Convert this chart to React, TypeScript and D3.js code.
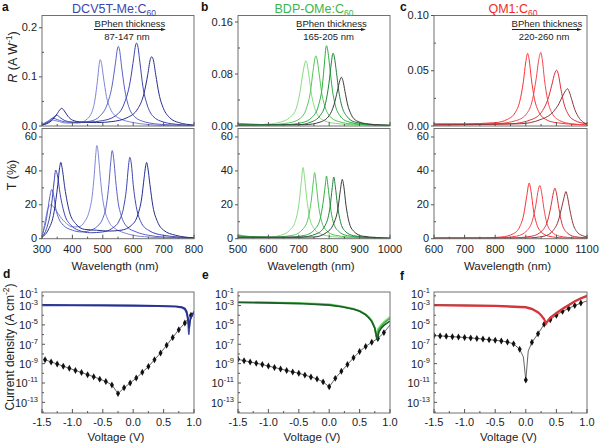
import React, { useRef, useEffect } from 'react';
import * as d3 from 'd3';

type Pt = [number, number];

// ---- a: DCV5T-Me:C60 (responsivity, A/W) ----
const aR1: Pt[] = [[300, 0.002], [320, 0.008], [335, 0.012], [350, 0.01], [380, 0.006], [420, 0.006], [450, 0.015], [470, 0.04], [482, 0.09], [488, 0.125], [491, 0.135], [495, 0.13], [502, 0.1], [512, 0.06], [525, 0.035], [550, 0.017], [600, 0.007], [650, 0.003], [700, 0.001], [800, 0]];
const aR2: Pt[] = [[300, 0.003], [320, 0.01], [336, 0.016], [350, 0.013], [380, 0.008], [420, 0.007], [460, 0.01], [490, 0.02], [515, 0.045], [530, 0.08], [542, 0.13], [548, 0.157], [551, 0.162], [555, 0.155], [562, 0.12], [572, 0.075], [585, 0.04], [600, 0.022], [640, 0.008], [700, 0.003], [800, 0.001]];
const aR3: Pt[] = [[300, 0.002], [325, 0.01], [340, 0.019], [349, 0.022], [358, 0.018], [375, 0.011], [400, 0.008], [450, 0.008], [500, 0.011], [540, 0.02], [570, 0.045], [590, 0.09], [602, 0.14], [608, 0.165], [611, 0.169], [615, 0.163], [622, 0.13], [632, 0.08], [645, 0.045], [665, 0.02], [700, 0.008], [750, 0.003], [800, 0.001]];
const aR4: Pt[] = [[300, 0.002], [330, 0.01], [350, 0.025], [360, 0.034], [365, 0.036], [372, 0.032], [385, 0.02], [400, 0.012], [430, 0.008], [480, 0.007], [530, 0.009], [580, 0.017], [615, 0.035], [635, 0.065], [648, 0.105], [656, 0.135], [661, 0.141], [666, 0.135], [674, 0.105], [685, 0.065], [700, 0.035], [720, 0.017], [750, 0.007], [800, 0.002]];
// transmittance, %
const aT1: Pt[] = [[300, 0], [310, 10], [320, 18], [330, 20], [345, 17], [360, 13], [380, 9], [400, 7], [420, 7], [440, 10], [455, 16], [465, 25], [472, 38], [477, 50], [480, 55], [484, 52], [490, 40], [497, 27], [505, 18], [520, 10], [540, 6], [570, 3.5], [600, 2], [650, 1], [700, 0.5], [800, 0.2]];
const aT2: Pt[] = [[300, 2], [315, 12], [325, 24], [332, 29], [338, 26], [345, 18], [355, 12], [370, 8], [400, 5], [430, 4], [460, 5], [480, 7], [500, 12], [512, 20], [520, 32], [526, 45], [531, 52], [536, 47], [542, 35], [550, 22], [560, 14], [580, 7], [610, 4], [650, 2], [700, 1], [800, 0.3]];
const aT3: Pt[] = [[300, 1], [315, 6], [330, 18], [340, 34], [345, 40.5], [350, 38], [360, 26], [375, 14], [395, 8], [420, 5], [460, 3.5], [500, 4], [530, 6], [555, 11], [568, 18], [578, 30], [584, 42], [589, 48], [594, 44], [600, 32], [610, 19], [625, 10], [650, 5], [700, 2], [800, 0.5]];
const aT4: Pt[] = [[300, 1], [320, 5], [340, 16], [352, 32], [358, 42], [362, 45], [366, 42], [375, 30], [390, 16], [410, 9], [440, 5.5], [480, 5], [520, 4.5], [560, 5], [595, 8], [615, 14], [628, 24], [636, 36], [641, 43], [644, 45], [648, 42], [655, 32], [665, 19], [680, 10], [700, 5], [740, 2], [800, 0.5]];
const aColors = ['#7f86d6', '#5a62c4', '#3e46b0', '#262d8c'];

// ---- b: BDP-OMe:C60 ----
const bR1: Pt[] = [[500, 0.004], [550, 0.002], [600, 0.003], [640, 0.006], [670, 0.013], [690, 0.025], [703, 0.05], [713, 0.08], [720, 0.097], [723, 0.1005], [727, 0.096], [734, 0.075], [742, 0.048], [752, 0.028], [765, 0.015], [785, 0.008], [820, 0.004], [880, 0.002], [1000, 0.001]];
const bR2: Pt[] = [[500, 0.004], [600, 0.002], [670, 0.005], [705, 0.012], [725, 0.027], [738, 0.052], [747, 0.085], [753, 0.104], [756, 0.108], [760, 0.103], [767, 0.08], [775, 0.052], [786, 0.03], [800, 0.016], [830, 0.007], [880, 0.003], [1000, 0.001]];
const bR3: Pt[] = [[500, 0.003], [650, 0.002], [710, 0.005], [745, 0.014], [765, 0.032], [777, 0.06], [785, 0.1], [789, 0.12], [791, 0.1235], [795, 0.117], [802, 0.09], [810, 0.057], [820, 0.032], [835, 0.016], [860, 0.007], [920, 0.002], [1000, 0.001]];
const bR4: Pt[] = [[500, 0.002], [700, 0.002], [740, 0.006], [770, 0.016], [788, 0.035], [799, 0.065], [807, 0.097], [811, 0.11], [813, 0.112], [817, 0.106], [824, 0.082], [832, 0.052], [842, 0.03], [858, 0.015], [885, 0.006], [950, 0.002], [1000, 0.001]];
const bR5: Pt[] = [[500, 0.001], [720, 0.002], [770, 0.006], [800, 0.016], [816, 0.033], [827, 0.054], [835, 0.07], [840, 0.075], [845, 0.07], [852, 0.053], [860, 0.034], [872, 0.018], [890, 0.008], [930, 0.003], [1000, 0.001]];
const bT1: Pt[] = [[500, 2.5], [550, 1], [600, 1], [640, 2], [670, 5], [688, 10], [700, 20], [708, 33], [714, 42], [719, 36], [726, 24], [735, 13], [748, 6.5], [770, 3], [810, 1.2], [880, 0.5], [1000, 0.2]];
const bT2: Pt[] = [[500, 2], [600, 0.8], [680, 2], [715, 6], [732, 13], [742, 24], [748, 34], [752, 39], [757, 33], [764, 21], [774, 11], [790, 5], [820, 2], [900, 0.6], [1000, 0.2]];
const bT3: Pt[] = [[500, 1.5], [650, 0.6], [720, 2], [755, 6], [772, 13], [782, 24], [788, 33], [791, 37], [796, 31], [803, 20], [813, 10], [830, 4.5], [860, 1.8], [950, 0.4], [1000, 0.2]];
const bT4: Pt[] = [[500, 1], [700, 0.8], [760, 3], [790, 9], [803, 19], [810, 30], [815, 36.4], [820, 31], [827, 20], [837, 10], [852, 4.5], [880, 1.8], [950, 0.5], [1000, 0.3]];
const bT5: Pt[] = [[500, 0.8], [750, 1], [790, 3.5], [815, 9], [829, 18], [837, 29], [843, 35], [848, 31], [855, 20], [865, 10], [880, 4.5], [910, 1.5], [1000, 0.3]];
const bColors = ['#86dc7e', '#55c55a', '#2fae3f', '#23823a', '#3b3b3b'];

// ---- c: QM1:C60 ----
const cR1: Pt[] = [[600, 0.002], [700, 0.002], [800, 0.003], [840, 0.006], [865, 0.012], [880, 0.022], [892, 0.04], [900, 0.058], [906, 0.0657], [911, 0.06], [918, 0.043], [928, 0.025], [942, 0.013], [965, 0.006], [1000, 0.003], [1100, 0.001]];
const cR2: Pt[] = [[600, 0.001], [800, 0.002], [870, 0.005], [905, 0.012], [922, 0.024], [934, 0.043], [943, 0.061], [949, 0.0666], [954, 0.06], [961, 0.042], [971, 0.024], [985, 0.012], [1010, 0.005], [1050, 0.002], [1100, 0.001]];
const cR3: Pt[] = [[600, 0.001], [850, 0.002], [920, 0.006], [955, 0.014], [972, 0.024], [985, 0.037], [995, 0.048], [1001, 0.0505], [1007, 0.046], [1015, 0.033], [1025, 0.02], [1040, 0.01], [1060, 0.005], [1100, 0.002]];
const cR4: Pt[] = [[600, 0.001], [880, 0.002], [950, 0.006], [990, 0.013], [1008, 0.02], [1020, 0.027], [1030, 0.032], [1036, 0.0338], [1042, 0.031], [1050, 0.024], [1060, 0.015], [1075, 0.007], [1090, 0.003], [1100, 0.002]];
const cT1: Pt[] = [[600, 0.5], [750, 0.4], [820, 1], [860, 3], [880, 7], [893, 14], [903, 25], [911, 32.8], [917, 28], [925, 17], [935, 9], [950, 4], [975, 1.5], [1020, 0.5], [1100, 0.2]];
const cT2: Pt[] = [[600, 0.3], [800, 0.4], [870, 1.5], [905, 5], [922, 11], [933, 20], [941, 29], [946, 31.4], [951, 28], [959, 18], [969, 9], [985, 4], [1010, 1.5], [1060, 0.5], [1100, 0.3]];
const cT3: Pt[] = [[600, 0.3], [850, 0.4], [920, 1.5], [955, 5], [972, 11], [983, 20], [990, 27], [995, 29.8], [1000, 27], [1008, 18], [1018, 9], [1035, 3.5], [1060, 1.2], [1100, 0.5]];
const cT4: Pt[] = [[600, 0.2], [900, 0.4], [960, 1.5], [990, 5], [1007, 11], [1018, 19], [1026, 25], [1031, 27.8], [1036, 25], [1044, 17], [1054, 9], [1070, 3.5], [1090, 1.5], [1100, 1]];
const cColors = ['#ff3030', '#f04850', '#d8303a', '#8a3838'];

// ---- d/e/f: current density (A cm^-2) vs voltage ----
const dLight1: Pt[] = [[-1.5, 1.05e-3], [-1.0, 1e-3], [-0.5, 9.5e-4], [0, 9e-4], [0.4, 8.5e-4], [0.7, 7.5e-4], [0.8, 6e-4], [0.85, 4e-4], [0.88, 1.5e-4], [0.9, 3e-5], [0.915, 1e-6], [0.93, 2e-5], [0.95, 6e-5], [1.0, 1.8e-4]];
const dLight2: Pt[] = [[-1.5, 1.2e-3], [-1.0, 1.15e-3], [-0.5, 1.1e-3], [0, 1.05e-3], [0.4, 9.5e-4], [0.7, 8.5e-4], [0.8, 7e-4], [0.85, 5e-4], [0.88, 2.5e-4], [0.9, 6e-5], [0.92, 5e-6], [0.94, 4e-5], [0.97, 1e-4], [1.0, 2.5e-4]];
// dark current: markers sit on the 0.05-offset grid in this panel, last point is line only
const dDark: Pt[] = [[-1.45, 2.5e-9], [-1.35, 1.5e-9], [-1.25, 9.1e-10], [-1.15, 5.5e-10], [-1.05, 3.3e-10], [-0.95, 2e-10], [-0.85, 1.2e-10], [-0.75, 7.2e-11], [-0.65, 4.4e-11], [-0.55, 2.5e-11], [-0.45, 1.4e-11], [-0.35, 6.3e-12], [-0.25, 8e-13], [-0.15, 3.2e-12], [-0.05, 1e-11], [0.05, 3.2e-11], [0.15, 1.26e-10], [0.25, 5e-10], [0.35, 2.5e-9], [0.45, 1.26e-8], [0.55, 8e-8], [0.65, 5e-7], [0.75, 3.2e-6], [0.85, 1.6e-5], [0.95, 1e-4], [1.0, 2e-4]];

const eLight1: Pt[] = [[-1.5, 2.4e-3], [-1.0, 2.2e-3], [-0.5, 1.9e-3], [0, 1.4e-3], [0.2, 9e-4], [0.4, 5e-4], [0.5, 3e-4], [0.6, 1.3e-4], [0.65, 7e-5], [0.7, 3e-5], [0.74, 8e-6], [0.77, 1e-6], [0.8, 4e-6], [0.85, 1e-5], [0.9, 2.2e-5], [0.95, 4e-5], [1.0, 7e-5]];
const eLight2: Pt[] = [[-1.5, 2.2e-3], [-1.0, 2e-3], [-0.5, 1.7e-3], [0, 1.2e-3], [0.2, 8e-4], [0.4, 4.5e-4], [0.5, 2.8e-4], [0.6, 1.2e-4], [0.65, 6e-5], [0.7, 2.5e-5], [0.75, 5e-6], [0.78, 4e-7], [0.81, 3e-6], [0.85, 7e-6], [0.9, 1.5e-5], [0.95, 2.8e-5], [1.0, 4.5e-5]];
const eLight3: Pt[] = [[-1.5, 2.1e-3], [-1.0, 1.9e-3], [-0.5, 1.6e-3], [0, 1.1e-3], [0.2, 7.5e-4], [0.4, 4.2e-4], [0.5, 2.6e-4], [0.6, 1.1e-4], [0.65, 5.5e-5], [0.7, 2.2e-5], [0.75, 4.5e-6], [0.79, 3e-7], [0.82, 2e-6], [0.86, 5e-6], [0.9, 9e-6], [0.95, 1.5e-5], [1.0, 2.5e-5]];
const eDark: Pt[] = [[-1.5, 2.8e-9], [-1.4, 2e-9], [-1.3, 1.5e-9], [-1.2, 1.1e-9], [-1.1, 8e-10], [-1.0, 5.6e-10], [-0.9, 4e-10], [-0.8, 2.8e-10], [-0.7, 2e-10], [-0.6, 1.4e-10], [-0.5, 1e-10], [-0.4, 6.5e-11], [-0.3, 4.2e-11], [-0.2, 2.6e-11], [-0.1, 1.3e-11], [0, 4e-12], [0.1, 3e-11], [0.2, 1.6e-10], [0.3, 8e-10], [0.4, 4e-9], [0.5, 1.8e-8], [0.6, 6e-8], [0.7, 1.6e-7], [0.8, 4e-7], [0.9, 1.6e-6], [1.0, 1e-5]];
const eLightColors = ['#8ee07e', '#3fae45', '#1b5e28'];

const fLight1: Pt[] = [[-1.5, 1.2e-3], [-1.0, 1.1e-3], [-0.5, 1e-3], [0, 7.5e-4], [0.1, 5e-4], [0.2, 2.2e-4], [0.25, 1.1e-4], [0.3, 4.5e-5], [0.33, 1.6e-5], [0.36, 3e-5], [0.4, 6e-5], [0.5, 1.9e-4], [0.6, 5e-4], [0.7, 1.2e-3], [0.8, 3e-3], [0.9, 6e-3], [1.0, 1.1e-2]];
const fLight2: Pt[] = [[-1.5, 1e-3], [-1.0, 9e-4], [-0.5, 8.5e-4], [0, 6e-4], [0.1, 4e-4], [0.2, 1.8e-4], [0.25, 9e-5], [0.3, 3.5e-5], [0.33, 1.2e-5], [0.36, 2.4e-5], [0.4, 5e-5], [0.5, 1.5e-4], [0.6, 4e-4], [0.7, 1e-3], [0.8, 2.4e-3], [0.9, 5e-3], [1.0, 9e-3]];
const fDark: Pt[] = [[-1.5, 8e-7], [-1.4, 7.3e-7], [-1.3, 6.7e-7], [-1.2, 6.1e-7], [-1.1, 5.6e-7], [-1.0, 5e-7], [-0.9, 4.5e-7], [-0.8, 4e-7], [-0.7, 3.5e-7], [-0.6, 3e-7], [-0.5, 2.6e-7], [-0.4, 2.2e-7], [-0.3, 1.7e-7], [-0.2, 1.1e-7], [-0.1, 3e-8], [-0.04, 5e-9], [0, 2e-11], [0.04, 2e-8], [0.1, 1.6e-7], [0.2, 1.2e-6], [0.3, 1.2e-5], [0.4, 3.5e-5], [0.5, 1e-4], [0.6, 2.5e-4], [0.7, 5e-4], [0.8, 1e-3], [0.9, 1.8e-3], [1.0, 3e-3]];
const fLightColors = ['#b0403f', '#e8303a'];

const FONT = '"Liberation Sans", Arial, Helvetica, sans-serif';
const COLS: [number, number][] = [[42, 194], [238, 390], [434, 587]];
const R_Y: [number, number] = [15.5, 126];
const T_Y: [number, number] = [128.5, 238.7];
const J_Y: [number, number] = [292, 413];
const TICK_FS = 11;
const TITLE_FS = 11.5;

type G = d3.Selection<SVGGElement, unknown, null, undefined>;

function frame(g: G, x0: number, x1: number, y0: number, y1: number) {
  g.append('rect').attr('x', x0).attr('y', y0).attr('width', x1 - x0).attr('height', y1 - y0)
    .attr('fill', 'none').attr('stroke', '#707070').attr('stroke-width', 1);
}

function xTicks(g: G, x: d3.ScaleLinear<number, number>, y1: number, major: number[], minor: number[], labels: boolean) {
  for (const t of minor) {
    g.append('line').attr('x1', x(t)).attr('x2', x(t)).attr('y1', y1).attr('y2', y1 - 2).attr('stroke', '#555');
  }
  for (const t of major) {
    g.append('line').attr('x1', x(t)).attr('x2', x(t)).attr('y1', y1).attr('y2', y1 - 4).attr('stroke', '#555');
    if (labels) {
      g.append('text').attr('x', x(t)).attr('y', y1 + 14).attr('text-anchor', 'middle')
        .attr('font-size', TICK_FS).attr('font-family', FONT).attr('fill', '#222').text(`${t}`);
    }
  }
}

function yTicksLin(g: G, y: d3.ScaleLinear<number, number>, x0: number, major: number[], minor: number[], fmt: (v: number) => string) {
  for (const t of minor) {
    g.append('line').attr('x1', x0).attr('x2', x0 + 2).attr('y1', y(t)).attr('y2', y(t)).attr('stroke', '#555');
  }
  for (const t of major) {
    g.append('line').attr('x1', x0 - 3).attr('x2', x0).attr('y1', y(t)).attr('y2', y(t)).attr('stroke', '#555');
    g.append('text').attr('x', x0 - 5).attr('y', y(t) + 3.5).attr('text-anchor', 'end')
      .attr('font-size', TICK_FS).attr('font-family', FONT).attr('fill', '#222').text(fmt(t));
  }
}

function spectrum(g: G, col: [number, number], xDom: [number, number], yMaxR: number,
  rTicks: number[], rMinor: number[], rFmt: (v: number) => string,
  rCurves: Pt[][], tCurves: Pt[][], colors: string[], clipId: string) {
  const x = d3.scaleLinear().domain(xDom).range(col);
  const yR = d3.scaleLinear().domain([0, yMaxR]).range([R_Y[1], R_Y[0]]);
  const yT = d3.scaleLinear().domain([0, 65]).range([T_Y[1], T_Y[0]]);
  const step = (xDom[1] - xDom[0]) / 5;
  const major = d3.range(0, 6).map((i) => xDom[0] + i * step);
  const minor = d3.range(0, 5).map((i) => xDom[0] + (i + 0.5) * step);

  const defs = g.append('defs');
  defs.append('clipPath').attr('id', clipId + 'r').append('rect')
    .attr('x', col[0]).attr('y', R_Y[0]).attr('width', col[1] - col[0]).attr('height', R_Y[1] - R_Y[0]);
  defs.append('clipPath').attr('id', clipId + 't').append('rect')
    .attr('x', col[0]).attr('y', T_Y[0]).attr('width', col[1] - col[0]).attr('height', T_Y[1] - T_Y[0]);

  const lineR = d3.line<Pt>().x((d) => x(d[0])).y((d) => yR(d[1])).curve(d3.curveMonotoneX);
  const lineT = d3.line<Pt>().x((d) => x(d[0])).y((d) => yT(d[1])).curve(d3.curveMonotoneX);
  const gr = g.append('g').attr('clip-path', `url(#${clipId}r)`);
  rCurves.forEach((c, i) => gr.append('path').attr('d', lineR(c)).attr('fill', 'none')
    .attr('stroke', colors[i]).attr('stroke-width', 1));
  const gt = g.append('g').attr('clip-path', `url(#${clipId}t)`);
  tCurves.forEach((c, i) => gt.append('path').attr('d', lineT(c)).attr('fill', 'none')
    .attr('stroke', colors[i]).attr('stroke-width', 1));

  frame(g, col[0], col[1], R_Y[0], R_Y[1]);
  frame(g, col[0], col[1], T_Y[0], T_Y[1]);
  xTicks(g, x, R_Y[1], major, minor, false);
  xTicks(g, x, T_Y[1], major, minor, true);
  yTicksLin(g, yR, col[0], rTicks, rMinor, rFmt);
  yTicksLin(g, yT, col[0], [0, 20, 40, 60], [10, 30, 50], (v) => `${v}`);

  g.append('text').attr('x', (col[0] + col[1]) / 2 - 3).attr('y', 270).attr('text-anchor', 'middle')
    .attr('font-size', TITLE_FS).attr('font-family', FONT).attr('fill', '#222').text('Wavelength (nm)');
}

function annotation(g: G, x0: number, x1: number, range: string) {
  const cx = (x0 + x1) / 2;
  g.append('text').attr('x', cx).attr('y', 27).attr('text-anchor', 'middle')
    .attr('font-size', 9.5).attr('font-family', FONT).attr('fill', '#222').text('BPhen thickness');
  g.append('line').attr('x1', x0).attr('x2', x1 - 2).attr('y1', 29.5).attr('y2', 29.5).attr('stroke', '#222');
  g.append('path').attr('d', `M${x1},29.5 L${x1 - 5},28 L${x1 - 5},31 Z`).attr('fill', '#222');
  g.append('text').attr('x', cx - 3).attr('y', 40).attr('text-anchor', 'middle')
    .attr('font-size', 9.5).attr('font-family', FONT).attr('fill', '#222').text(range);
}

function title(g: G, cx: number, name: string, color: string) {
  const t = g.append('text').attr('x', cx).attr('y', 12.5).attr('text-anchor', 'middle')
    .attr('font-size', 12.5).attr('font-family', FONT).attr('fill', color);
  t.append('tspan').text(name);
  t.append('tspan').attr('font-size', 8.5).attr('dy', 3).text('60');
}

// markOffset: the voltage grid (0.1 V step) on which the dark-current markers sit
function jv(g: G, col: [number, number], lights: Pt[][], lightColors: string[], dark: Pt[], markOffset: number, clipId: string) {
  const x = d3.scaleLinear().domain([-1.5, 1.0]).range(col);
  const y = d3.scaleLog().domain([Math.pow(10, -14.1), Math.pow(10, -1.6)]).range([J_Y[1], J_Y[0]]);
  g.append('defs').append('clipPath').attr('id', clipId).append('rect')
    .attr('x', col[0]).attr('y', J_Y[0]).attr('width', col[1] - col[0]).attr('height', J_Y[1] - J_Y[0]);
  const gc = g.append('g').attr('clip-path', `url(#${clipId})`);
  const line = d3.line<Pt>().x((d) => x(d[0])).y((d) => y(d[1]));

  gc.append('path').attr('d', line(dark)).attr('fill', 'none').attr('stroke', '#555').attr('stroke-width', 0.9);
  const marks = dark.filter((d) => {
    const k = (d[0] - markOffset) * 10;
    return Math.abs(k - Math.round(k)) < 1e-6 && d[0] < 0.999 + markOffset * 0;
  }).filter((d) => markOffset === 0 || d[0] < 0.99);
  gc.selectAll('path.mk').data(marks).enter().append('path').attr('class', 'mk')
    .attr('d', d3.symbol().type(d3.symbolDiamond).size(14)())
    .attr('transform', (d) => `translate(${x(d[0])},${y(d[1])})`).attr('fill', '#111');
  lights.forEach((c, i) => gc.append('path').attr('d', line(c)).attr('fill', 'none')
    .attr('stroke', lightColors[i]).attr('stroke-width', 1.6));

  frame(g, col[0], col[1], J_Y[0], J_Y[1]);
  const xMaj = [-1.5, -1.0, -0.5, 0, 0.5, 1.0];
  const xMin = [-1.25, -0.75, -0.25, 0.25, 0.75];
  xTicks(g, x, J_Y[1], xMaj, xMin, false);
  for (const t of xMaj) {
    g.append('text').attr('x', x(t)).attr('y', J_Y[1] + 13).attr('text-anchor', 'middle')
      .attr('font-size', TICK_FS).attr('font-family', FONT).attr('fill', '#222')
      .text(t < 0 ? `-${Math.abs(t).toFixed(1)}` : t.toFixed(1));
  }
  for (let e = -14; e <= -2; e++) {
    const yy = y(Math.pow(10, e));
    const odd = e % 2 !== 0;
    if (yy < J_Y[0] - 0.5) continue;
    g.append('line').attr('x1', col[0]).attr('x2', col[0] + (odd ? 3 : 2)).attr('y1', yy).attr('y2', yy).attr('stroke', '#555');
  }
  for (const e of [-1, -3, -5, -7, -9, -11, -13]) {
    const yy = Math.max(J_Y[0] + 1, y(Math.pow(10, e)));
    const t = g.append('text').attr('x', col[0] - 4).attr('y', yy + 4.5).attr('text-anchor', 'end')
      .attr('font-size', 11).attr('font-family', FONT).attr('fill', '#222');
    t.append('tspan').text('10');
    t.append('tspan').attr('font-size', 7.5).attr('dy', -5).text(`${e}`);
  }
  g.append('text').attr('x', (col[0] + col[1]) / 2 - 2).attr('y', 441).attr('text-anchor', 'middle')
    .attr('font-size', TITLE_FS).attr('font-family', FONT).attr('fill', '#222').text('Voltage (V)');
}

function letter(g: G, x: number, y: number, s: string) {
  g.append('text').attr('x', x).attr('y', y).attr('font-size', 12).attr('font-weight', 'bold')
    .attr('font-family', FONT).attr('fill', '#111').text(s);
}

export default function App() {
  const ref = useRef<SVGSVGElement>(null);

  useEffect(() => {
    document.body.style.margin = '0';
    const svg = d3.select(ref.current);
    svg.selectAll('*').remove();
    const g = svg.append('g') as unknown as G;

    const f1 = (v: number) => v.toFixed(1);
    const f2 = (v: number) => v.toFixed(2);

    spectrum(g, COLS[0], [300, 800], 0.225, [0, 0.1, 0.2], [0.05, 0.15], f1,
      [aR1, aR2, aR3, aR4], [aT1, aT2, aT3, aT4], aColors, 'ca');
    spectrum(g, COLS[1], [500, 1000], 0.17, [0, 0.08, 0.16], [0.04, 0.12], f2,
      [bR1, bR2, bR3, bR4, bR5], [bT1, bT2, bT3, bT4, bT5], bColors, 'cb');
    spectrum(g, COLS[2], [600, 1100], 0.1, [0, 0.05, 0.1], [0.025, 0.075], f2,
      [cR1, cR2, cR3, cR4], [cT1, cT2, cT3, cT4], cColors, 'cc');

    annotation(g, 94, 166, '87-147 nm');
    annotation(g, 297, 366, '165-205 nm');
    annotation(g, 512, 582, '220-260 nm');

    title(g, 114, 'DCV5T-Me:C', '#3b45b0');
    title(g, 314, 'BDP-OMe:C', '#3cb54a');
    title(g, 513, 'QM1:C', '#ee2a2a');

    jv(g, COLS[0], [dLight1, dLight2], ['#3a47a8', '#27318c'], dDark, 0.05, 'cd');
    jv(g, COLS[1], [eLight1, eLight2, eLight3], eLightColors, eDark, 0, 'ce');
    jv(g, COLS[2], [fLight1, fLight2], fLightColors, fDark, 0, 'cf');

    // axis titles
    const rl = g.append('text').attr('transform', 'translate(17,57) rotate(-90)').attr('text-anchor', 'middle')
      .attr('font-size', 12.5).attr('font-family', FONT).attr('fill', '#222');
    rl.append('tspan').attr('font-style', 'italic').text('R');
    rl.append('tspan').text(' (A W');
    rl.append('tspan').attr('font-size', 8.5).attr('dy', -5).text('-1');
    rl.append('tspan').attr('dy', 5).text(')');
    g.append('text').attr('transform', 'translate(16,175) rotate(-90)').attr('text-anchor', 'middle')
      .attr('font-size', 12.5).attr('font-family', FONT).attr('fill', '#222').text('T (%)');
    const jl = g.append('text').attr('transform', 'translate(14,347) rotate(-90)').attr('text-anchor', 'middle')
      .attr('font-size', 12).attr('font-family', FONT).attr('fill', '#222');
    jl.append('tspan').text('Current density (A cm');
    jl.append('tspan').attr('font-size', 8.5).attr('dy', -5).text('-2');
    jl.append('tspan').attr('dy', 5).text(')');

    letter(g, 2, 11, 'a');
    letter(g, 201, 11, 'b');
    letter(g, 400, 11, 'c');
    letter(g, 3, 278, 'd');
    letter(g, 202, 279, 'e');
    letter(g, 400, 280, 'f');
  }, []);

  return <svg ref={ref} width={600} height={446} style={{ display: 'block', background: '#fff' }} />;
}
